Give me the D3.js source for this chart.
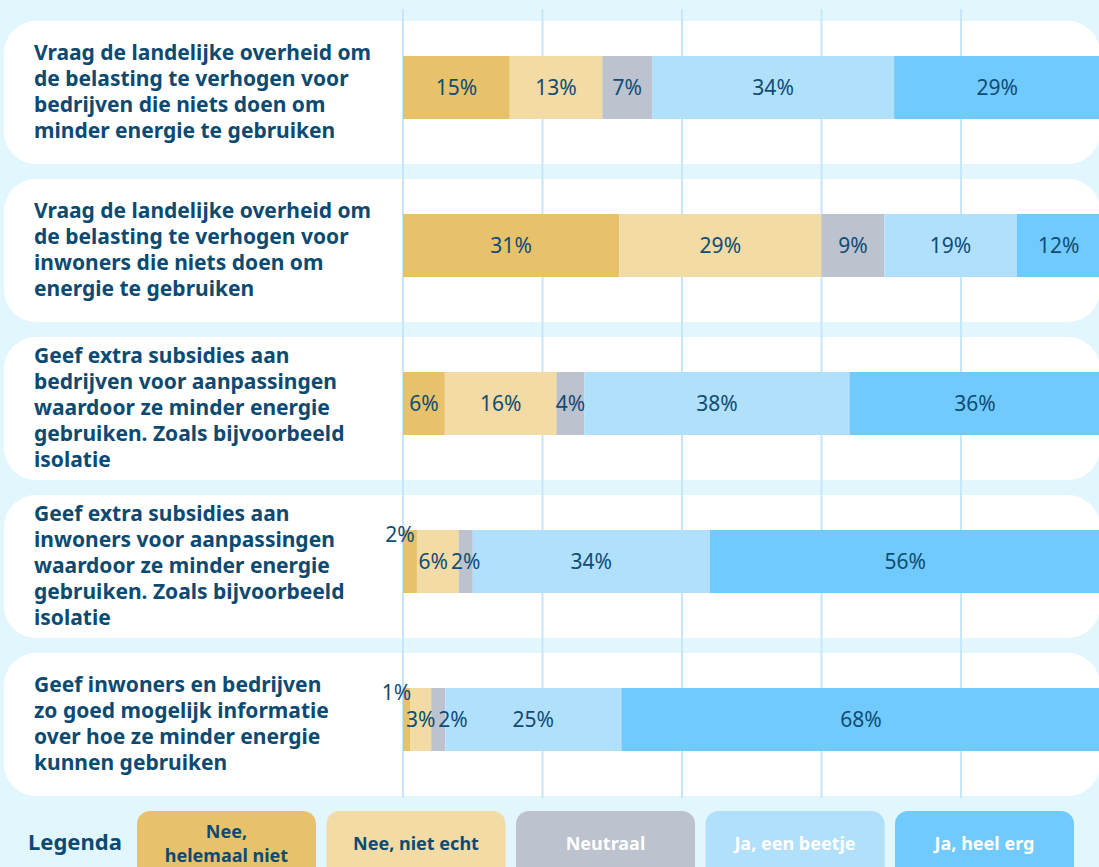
<!doctype html>
<html>
<head>
<script src="https://cdnjs.cloudflare.com/ajax/libs/d3/7.8.5/d3.min.js"></script>
<style>
  body { margin: 0; background: #e1f6fd; }
  svg { display: block; }
  .q { font-family: "Noto Sans", sans-serif; font-weight: 700; font-size: 21px; fill: #0c4a72; }
  .val { font-family: "Noto Sans", sans-serif; font-size: 21px; fill: #0f4c75; }
  .leg { font-family: "Noto Sans", sans-serif; font-weight: 700; font-size: 18px; }
</style>
</head>
<body>
<svg id="chart" width="1099" height="867"></svg>
<script>
// vragen (elke regel apart zoals in de afbeelding)
var questions = [
  ["Vraag de landelijke overheid om", "de belasting te verhogen voor", "bedrijven die niets doen om", "minder energie te gebruiken"],
  ["Vraag de landelijke overheid om", "de belasting te verhogen voor", "inwoners die niets doen om", "energie te gebruiken"],
  ["Geef extra subsidies aan", "bedrijven voor aanpassingen", "waardoor ze minder energie", "gebruiken. Zoals bijvoorbeeld", "isolatie"],
  ["Geef extra subsidies aan", "inwoners voor aanpassingen", "waardoor ze minder energie", "gebruiken. Zoals bijvoorbeeld", "isolatie"],
  ["Geef inwoners en bedrijven", "zo goed mogelijk informatie", "over hoe ze minder energie", "kunnen gebruiken"]
];
var categories = ["Nee, helemaal niet", "Nee, niet echt", "Neutraal", "Ja, een beetje", "Ja, heel erg"];
var legendLines = [["Nee,", "helemaal niet"], ["Nee, niet echt"], ["Neutraal"], ["Ja, een beetje"], ["Ja, heel erg"]];
var colors = ["#e8c26a", "#f2dba5", "#bcc2ce", "#b1e0fd", "#71cafe"];
var legendText = ["#0c4a72", "#0c4a72", "#ffffff", "#ffffff", "#ffffff"];
var values = [
  [15, 13, 7, 34, 29],
  [31, 29, 9, 19, 12],
  [6, 16, 4, 38, 36],
  [2, 6, 2, 34, 56],
  [1, 3, 2, 25, 68]
];
var ticks = [0, 20, 40, 60, 80, 100];

var svg = d3.select("#chart");
var x = d3.scaleLinear().domain([0, 100]).range([403, 1100.5]);
var panelTop = d3.scaleLinear().domain([0, 1]).range([21, 179]);
var panelH = 143, barOff = 35, barH = 63;

// witte panelen
svg.selectAll("rect.panel").data(questions).enter().append("rect")
  .attr("class", "panel")
  .attr("x", 4).attr("y", (d, i) => panelTop(i))
  .attr("width", 1096).attr("height", panelH)
  .attr("rx", 32).attr("ry", 32)
  .attr("fill", "#fff");

// rasterlijnen
svg.selectAll("line.grid").data(ticks).enter().append("line")
  .attr("class", "grid")
  .attr("x1", d => x(d)).attr("x2", d => x(d))
  .attr("y1", 9).attr("y2", 798)
  .attr("stroke", "#c6e7fb").attr("stroke-width", 2);

// vraagteksten
svg.selectAll("text.q").data(questions).enter().append("text")
  .attr("class", "q")
  .each(function(lines, i) {
    var mid = panelTop(i) + panelH / 2;
    d3.select(this).selectAll("tspan").data(lines).enter().append("tspan")
      .attr("x", 34)
      .attr("y", (l, k) => mid + (k - (lines.length - 1) / 2) * 26 + 6)
      .text(l => l);
  });

// gestapelde balken (genormaliseerd op 100%)
values.forEach(function(row, i) {
  var total = d3.sum(row);
  var y0 = panelTop(i) + barOff;
  var cum = 0;
  var segs = row.map(function(v, j) {
    var s = { v: v, j: j, a: cum / total * 100, b: (cum + v) / total * 100 };
    s.raised = (j === 0 && v < 3);
    cum += v;
    return s;
  });
  var g = svg.append("g");
  g.selectAll("rect").data(segs).enter().append("rect")
    .attr("x", d => x(d.a)).attr("y", y0)
    .attr("width", d => x(d.b) - x(d.a)).attr("height", barH)
    .attr("fill", d => colors[d.j]);
  var labels = g.selectAll("text").data(segs).enter().append("text")
    .attr("class", "val")
    .attr("text-anchor", "middle")
    .attr("y", d => d.raised ? y0 + 12 : y0 + barH / 2 + 7)
    .text(d => d.v + "%");

  // labels centreren en bij overlap uit elkaar schuiven
  labels.each(function(d) {
    d.w = this.getComputedTextLength() + 3;
    d.cx = (x(d.a) + x(d.b)) / 2 - (d.raised ? 10 : 0);
  });
  var prev = null;
  segs.forEach(function(d) {
    if (d.raised) { prev = null; return; }
    if (prev) {
      var overlap = (prev.cx + prev.w / 2) - (d.cx - d.w / 2);
      if (overlap > 0) {
        var room = Math.max(0, (prev.cx - prev.w / 2) - x(prev.a));
        var left = Math.min(overlap, room);
        prev.cx -= left;
        d.cx += overlap - left;
      }
    }
    prev = d;
  });
  labels.attr("x", d => d.cx);
});

// legenda
svg.append("text").attr("class", "q")
  .attr("x", 28).attr("y", 850).style("font-size", "22px")
  .text("Legenda");
var legX = d3.scaleLinear().domain([0, 1]).range([137, 326.5]);
var lg = svg.selectAll("g.legitem").data(categories).enter().append("g")
  .attr("class", "legitem")
  .attr("transform", (d, i) => "translate(" + legX(i) + ",811)");
lg.append("rect")
  .attr("width", 179).attr("height", 80).attr("rx", 13)
  .attr("fill", (d, i) => colors[i]);
lg.append("text").attr("class", "leg")
  .attr("text-anchor", "middle")
  .attr("fill", (d, i) => legendText[i])
  .each(function(d, i) {
    var lines = legendLines[i];
    d3.select(this).selectAll("tspan").data(lines).enter().append("tspan")
      .attr("x", 89.5)
      .attr("y", (l, k) => 38.5 + (k - (lines.length - 1) / 2) * 24)
      .text(l => l);
  });
</script>
</body>
</html>
